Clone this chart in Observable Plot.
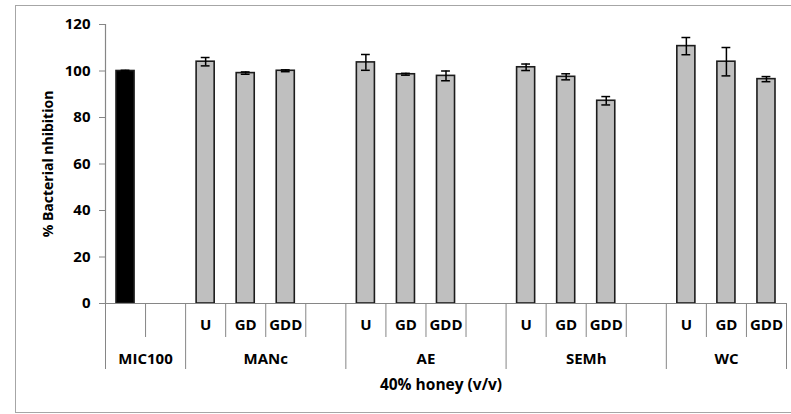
<!DOCTYPE html>
<html><head><meta charset="utf-8">
<script src="https://cdn.jsdelivr.net/npm/d3@7"></script>
<script src="https://cdn.jsdelivr.net/npm/@observablehq/plot@0.6"></script>
<style>
html,body{margin:0;padding:0;background:#fff;overflow:hidden;}
#wrap{position:relative;width:791px;height:414px;}
#border{position:absolute;left:15px;top:5px;width:820px;height:408px;border:1px solid #a6a6a6;box-sizing:border-box;pointer-events:none;}
#chart{position:absolute;left:0;top:0;}
#chart svg text{font-weight:bold;}
</style></head><body><div id="wrap"><div id="chart"></div><div id="border"></div></div>
<script>
// ---- data ----
const groups = ["MIC100", "MANc", "AE", "SEMh", "WC"];
const treatments = ["U", "GD", "GDD"];
const micValue = 100.0;
const micError = 0.3;
const mancValues = [104.0, 99.1, 100.1];
const mancErrors = [1.8, 0.5, 0.4];
const aeValues = [103.7, 98.6, 97.9];
const aeErrors = [3.4, 0.4, 2.1];
const semhValues = [101.6, 97.5, 87.2];
const semhErrors = [1.4, 1.3, 1.8];
const wcValues = [110.7, 104.0, 96.5];
const wcErrors = [3.7, 6.1, 1.1];
const yTicks = [0, 20, 40, 60, 80, 100, 120];
const yLabel = "% Bacterial nhibition";
const xLabel = "40% honey (v/v)";

// ---- layout of category slots (MIC100: 2 slots, other groups: 4 slots, last group 3) ----
const groupValues = [mancValues, aeValues, semhValues, wcValues];
const groupErrors = [mancErrors, aeErrors, semhErrors, wcErrors];
const rows = [{slot: 0, label: "", group: groups[0], value: micValue, error: micError, control: true}];
const groupStart = [0];
const groupEnd = [2];
groupValues.forEach((vals, gi) => {
  const start = 2 + 4 * gi;
  groupStart.push(start);
  groupEnd.push(start + (gi === groupValues.length - 1 ? 3 : 4));
  vals.forEach((v, t) => rows.push({slot: start + t, label: treatments[t], group: groups[gi + 1], value: v, error: groupErrors[gi][t], control: false}));
});
const nSlots = groupEnd[groupEnd.length - 1];
const groupBounds = Array.from(new Set([...groupStart, ...groupEnd]));
const innerBounds = d3.range(1, nSlots).filter(k => !groupBounds.includes(k));
const groupCenters = groups.map((g, i) => (groupStart[i] + groupEnd[i]) / 2);
const labelBySlot = new Map(rows.filter(d => !d.control).map(d => [d.slot, d.label]));

const axisGray = "#868686";
const font = "'Open Sans', sans-serif";

const chart = Plot.plot({
  width: 791,
  height: 414,
  marginLeft: 105,
  marginRight: 5,
  marginTop: 24,
  marginBottom: 111,
  style: {fontFamily: font, fontWeight: "bold", fontSize: "14px", color: "black", background: "transparent"},
  x: {type: "linear", domain: [0, nSlots]},
  y: {domain: [0, 120]},
  marks: [
    Plot.rectY(rows, {
      x1: d => d.slot, x2: d => d.slot + 1, y1: 0, y2: "value",
      insetLeft: 11, insetRight: 11,
      fill: d => d.control ? "#000000" : "#bfbfbf",
      stroke: "#1c1c1c", strokeWidth: 1.6
    }),
    Plot.ruleX(rows, {x: d => d.slot + 0.5, y1: d => d.value - d.error, y2: d => d.value + d.error, stroke: "black", strokeWidth: 1.5}),
    Plot.ruleY(rows, {x1: d => d.slot + 0.39, x2: d => d.slot + 0.61, y: d => d.value + d.error, stroke: "black", strokeWidth: 1.5}),
    Plot.ruleY(rows, {x1: d => d.slot + 0.39, x2: d => d.slot + 0.61, y: d => d.value - d.error, stroke: "black", strokeWidth: 1.5}),
    Plot.ruleX([0], {stroke: axisGray, strokeWidth: 1.2}),
    Plot.ruleY([0], {stroke: axisGray, strokeWidth: 1.2}),
    Plot.axisY({ticks: yTicks, tickSize: 6, tickPadding: 9, stroke: axisGray, fill: "black", label: null, fontSize: 15, fontFamily: font, fontWeight: "bold"}),
    Plot.axisX({ticks: innerBounds, tickSize: 34, tickFormat: () => "", stroke: axisGray, label: null}),
    Plot.axisX({ticks: groupBounds, tickSize: 66, tickFormat: () => "", stroke: axisGray, label: null}),
    Plot.axisX({ticks: Array.from(labelBySlot.keys()).map(s => s + 0.5), tickSize: 0, tickPadding: 16, tickFormat: v => labelBySlot.get(Math.floor(v)), fill: "black", label: null, fontSize: 15, fontFamily: font, fontWeight: "bold"}),
    Plot.axisX({ticks: groupCenters, tickSize: 0, tickPadding: 50, tickFormat: v => groups[groupCenters.indexOf(v)], fill: "black", label: null, fontSize: 15, fontFamily: font, fontWeight: "bold"}),
    Plot.text([yLabel], {text: d => d, frameAnchor: "left", textAnchor: "middle", rotate: -90, dx: -57, fill: "black", fontSize: 14, fontFamily: font, fontWeight: "bold"}),
    Plot.text([xLabel], {text: d => d, frameAnchor: "bottom", dx: -5, dy: 86, fill: "black", fontSize: 15.5, fontFamily: font, fontWeight: "bold"})
  ]
});
document.getElementById("chart").appendChild(chart);
</script>
</body></html>
